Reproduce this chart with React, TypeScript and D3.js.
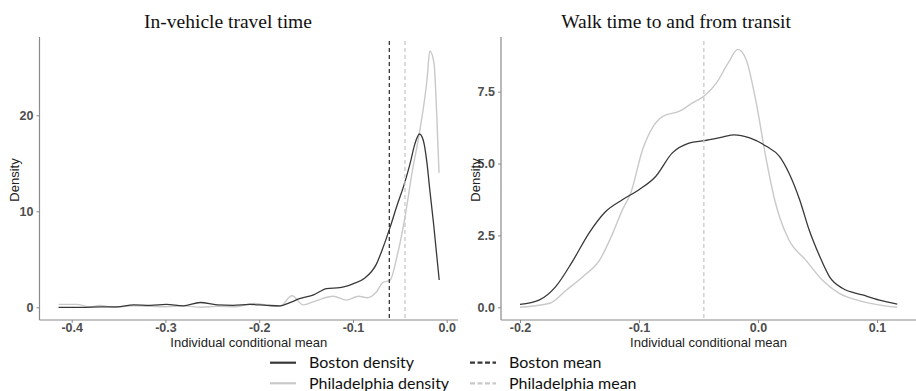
import { useEffect, useRef } from "react"
import * as d3 from "d3"

// In-vehicle travel time: [individual conditional mean, density]
const ivttBoston: [number, number][] = [
  [-0.414, 0.0], [-0.388, 0.0], [-0.37, 0.05], [-0.352, 0.05], [-0.334, 0.25],
  [-0.316, 0.2], [-0.299, 0.3], [-0.281, 0.15], [-0.263, 0.5], [-0.245, 0.25],
  [-0.228, 0.2], [-0.21, 0.3], [-0.192, 0.2], [-0.178, 0.15], [-0.168, 0.45],
  [-0.157, 0.9], [-0.142, 1.3], [-0.128, 1.95], [-0.114, 2.05], [-0.1, 2.45],
  [-0.088, 3.0], [-0.075, 4.5], [-0.068, 6.2], [-0.0605, 8.3], [-0.053, 10.6],
  [-0.046, 12.6], [-0.039, 15.0], [-0.034, 17.0], [-0.029, 18.05], [-0.025, 17.4],
  [-0.021, 15.0], [-0.018, 12.2], [-0.014, 8.7], [-0.008, 2.84],
]

const ivttPhilly: [number, number][] = [
  [-0.414, 0.3], [-0.395, 0.3], [-0.38, 0.05], [-0.37, 0.2], [-0.355, 0.0],
  [-0.335, 0.15], [-0.315, 0.1], [-0.3, 0.05], [-0.28, 0.15], [-0.262, 0.0],
  [-0.245, 0.1], [-0.225, 0.05], [-0.206, 0.4], [-0.19, 0.2], [-0.178, 0.1],
  [-0.165, 1.2], [-0.153, 0.25], [-0.139, 0.7], [-0.121, 1.15], [-0.107, 0.75],
  [-0.094, 1.15], [-0.085, 1.0], [-0.075, 1.6], [-0.068, 2.6], [-0.0605, 2.8],
  [-0.053, 5.3], [-0.0445, 9.4], [-0.037, 14.0], [-0.0285, 18.5], [-0.021, 23.7],
  [-0.018, 26.7], [-0.0135, 25.4], [-0.0107, 20.2], [-0.0082, 14.0],
]

// Walk time to and from transit
const walkBoston: [number, number][] = [
  [-0.2, 0.1], [-0.184, 0.25], [-0.17, 0.72], [-0.156, 1.59], [-0.142, 2.58],
  [-0.128, 3.33], [-0.114, 3.74], [-0.1, 4.09], [-0.086, 4.55], [-0.072, 5.37],
  [-0.058, 5.71], [-0.045, 5.8], [-0.03, 5.92], [-0.02, 6.0], [-0.007, 5.89],
  [0.007, 5.6], [0.018, 5.25], [0.026, 4.67], [0.035, 3.74], [0.043, 2.69],
  [0.052, 1.76], [0.06, 1.07], [0.071, 0.66], [0.088, 0.43], [0.102, 0.25], [0.117, 0.11],
]

const walkPhilly: [number, number][] = [
  [-0.2, 0.0], [-0.175, 0.14], [-0.161, 0.6], [-0.147, 1.07], [-0.133, 1.65],
  [-0.122, 2.58], [-0.114, 3.39], [-0.107, 3.97], [-0.097, 5.48], [-0.088, 6.29],
  [-0.08, 6.64], [-0.066, 6.82], [-0.055, 7.11], [-0.045, 7.36], [-0.035, 7.8],
  [-0.025, 8.5], [-0.017, 8.97], [-0.01, 8.62], [-0.002, 7.22], [0.007, 5.13],
  [0.014, 3.74], [0.018, 3.16], [0.026, 2.34], [0.04, 1.65], [0.054, 0.95],
  [0.068, 0.49], [0.088, 0.2], [0.117, 0.0],
]

const ivttMeans = { boston: -0.0612, philly: -0.0445 }
const walkMeans = { philly: -0.0455 }

const ivttXTicks = [-0.4, -0.3, -0.2, -0.1, 0.0]
const ivttYTicks = [0, 10, 20]
const walkXTicks = [-0.2, -0.1, 0.0, 0.1]
const walkYTicks = [0, 2.5, 5.0, 7.5]

const BOSTON = "#383838"
const PHILLY = "#c9c9c9"
const AXIS = "#8a8a8a"
const TICKTXT = "#4d4d4d"

const App = () => {
  const svgRef = useRef<SVGSVGElement>(null)

  useEffect(() => {
    const svg = d3.select(svgRef.current)
    svg.selectAll("*").remove()

    const drawPanel = (opts: {
      title: string
      titleX: number
      left: number
      right: number
      xDomain: [number, number]
      yDomain: [number, number]
      xTicks: number[]
      yTicks: number[]
      yFmt: (d: number) => string
      boston: [number, number][]
      philly: [number, number][]
      means: { boston?: number; philly?: number }
    }) => {
      const top = 37
      const bottom = 320
      const x = d3.scaleLinear().domain(opts.xDomain).range([opts.left, opts.right])
      const y = d3.scaleLinear().domain(opts.yDomain).range([bottom, top])
      const axisLeft = opts.left
      const g = svg.append("g")

      // title
      g.append("text")
        .attr("x", opts.titleX)
        .attr("y", 28)
        .attr("text-anchor", "middle")
        .style("font-family", "'Liberation Serif', 'Times New Roman', serif")
        .style("font-size", "19.5px")
        .style("fill", "#111")
        .text(opts.title)

      // axes
      const xAxis = g.append("g")
        .attr("transform", `translate(0,${bottom})`)
        .call(d3.axisBottom(x).tickValues(opts.xTicks).tickSize(3).tickSizeOuter(0).tickFormat(d3.format(".1f")))
      const yAxis = g.append("g")
        .attr("transform", `translate(${axisLeft},0)`)
        .call(d3.axisLeft(y).tickValues(opts.yTicks).tickSize(3).tickSizeOuter(0).tickFormat(opts.yFmt as any))

      for (const ax of [xAxis, yAxis]) {
        ax.select(".domain").remove()
        ax.selectAll("line").attr("stroke", AXIS)
        ax.selectAll("text")
          .style("font-family", "'Liberation Sans', Arial, sans-serif")
          .style("font-size", "12.5px")
          .style("font-weight", "bold")
          .style("fill", TICKTXT)
          .text(function () {
            return (d3.select(this).text() as string).replace("−", "-")
          })
      }
      xAxis.selectAll("text").attr("y", 3)

      // axis lines drawn separately so they span the whole panel
      g.append("line")
        .attr("x1", axisLeft).attr("x2", axisLeft)
        .attr("y1", top).attr("y2", bottom)
        .attr("stroke", AXIS).attr("stroke-width", 1.2)
      g.append("line")
        .attr("x1", axisLeft).attr("x2", opts.right)
        .attr("y1", bottom).attr("y2", bottom)
        .attr("stroke", AXIS).attr("stroke-width", 1.2)

      // axis titles
      g.append("text")
        .attr("x", (opts.left + opts.right) / 2)
        .attr("y", 347)
        .attr("text-anchor", "middle")
        .style("font-family", "'Liberation Sans', Arial, sans-serif")
        .style("font-size", "13px")
        .style("fill", "#222")
        .text("Individual conditional mean")
      g.append("text")
        .attr("transform", `translate(${axisLeft - 21},180) rotate(-90)`)
        .attr("text-anchor", "middle")
        .style("font-family", "'Liberation Sans', Arial, sans-serif")
        .style("font-size", "13px")
        .style("fill", "#222")
        .text("Density")

      const line = d3.line<[number, number]>()
        .x((d) => x(d[0]))
        .y((d) => y(d[1]))
        .curve(d3.curveMonotoneX)

      g.append("path")
        .datum(opts.philly)
        .attr("d", line)
        .attr("fill", "none")
        .attr("stroke", PHILLY)
        .attr("stroke-width", 1.4)
      g.append("path")
        .datum(opts.boston)
        .attr("d", line)
        .attr("fill", "none")
        .attr("stroke", BOSTON)
        .attr("stroke-width", 1.3)

      // mean lines
      if (opts.means.boston !== undefined) {
        g.append("line")
          .attr("x1", x(opts.means.boston)).attr("x2", x(opts.means.boston))
          .attr("y1", 41).attr("y2", bottom)
          .attr("stroke", BOSTON).attr("stroke-width", 1.3)
          .attr("stroke-dasharray", "4,3")
      }
      if (opts.means.philly !== undefined) {
        g.append("line")
          .attr("x1", x(opts.means.philly)).attr("x2", x(opts.means.philly))
          .attr("y1", 41).attr("y2", bottom)
          .attr("stroke", PHILLY).attr("stroke-width", 1.3)
          .attr("stroke-dasharray", "4,3")
      }
      return { x, y }
    }

    // left panel: 0.0 at 446.7, -0.4 at 71.7
    drawPanel({
      title: "In-vehicle travel time",
      titleX: 228,
      left: 39.5,
      right: 458,
      xDomain: [(39.5 - 446.7) / 937.5, (458 - 446.7) / 937.5],
      yDomain: [-(320 - 307.3) / 9.6, (307.3 - 37) / 9.6],
      xTicks: ivttXTicks,
      yTicks: ivttYTicks,
      yFmt: (d) => String(d),
      boston: ivttBoston,
      philly: ivttPhilly,
      means: ivttMeans,
    })

    // right panel: -0.2 at 520, 0.1 at 877
    drawPanel({
      title: "Walk time to and from transit",
      titleX: 676,
      left: 501,
      right: 916,
      xDomain: [(501 - 758) / 1190, (916 - 758) / 1190],
      yDomain: [-(320 - 307.3) / 28.75, (307.3 - 37) / 28.75],
      xTicks: walkXTicks,
      yTicks: walkYTicks,
      yFmt: d3.format(".1f"),
      boston: walkBoston,
      philly: walkPhilly,
      means: walkMeans,
    })

    // legend
    const legendItems = [
      { label: "Boston density", color: BOSTON, dash: null, col: 0, row: 0 },
      { label: "Philadelphia density", color: PHILLY, dash: null, col: 0, row: 1 },
      { label: "Boston mean", color: BOSTON, dash: "5,2.5", col: 1, row: 0 },
      { label: "Philadelphia mean", color: PHILLY, dash: "5,2.5", col: 1, row: 1 },
    ]
    const legend = svg.append("g")
    const colX = [270, 470]
    const rowY = [362.7, 383.3]
    legendItems.forEach((it) => {
      const lx = colX[it.col]
      const ly = rowY[it.row]
      legend.append("line")
        .attr("x1", lx).attr("x2", lx + 26)
        .attr("y1", ly).attr("y2", ly)
        .attr("stroke", it.color)
        .attr("stroke-width", 2.2)
        .attr("stroke-dasharray", it.dash)
      legend.append("text")
        .attr("x", lx + 39)
        .attr("y", ly + 5.5)
        .style("font-family", "Lato, 'Open Sans', sans-serif")
        .style("font-size", "16px")
        .style("fill", "#111")
        .text(it.label)
    })
  }, [])

  return (
    <svg
      ref={svgRef}
      width={916}
      height={391}
      style={{ position: "absolute", left: 0, top: 0, background: "#fff" }}
    ></svg>
  )
}

export default App
